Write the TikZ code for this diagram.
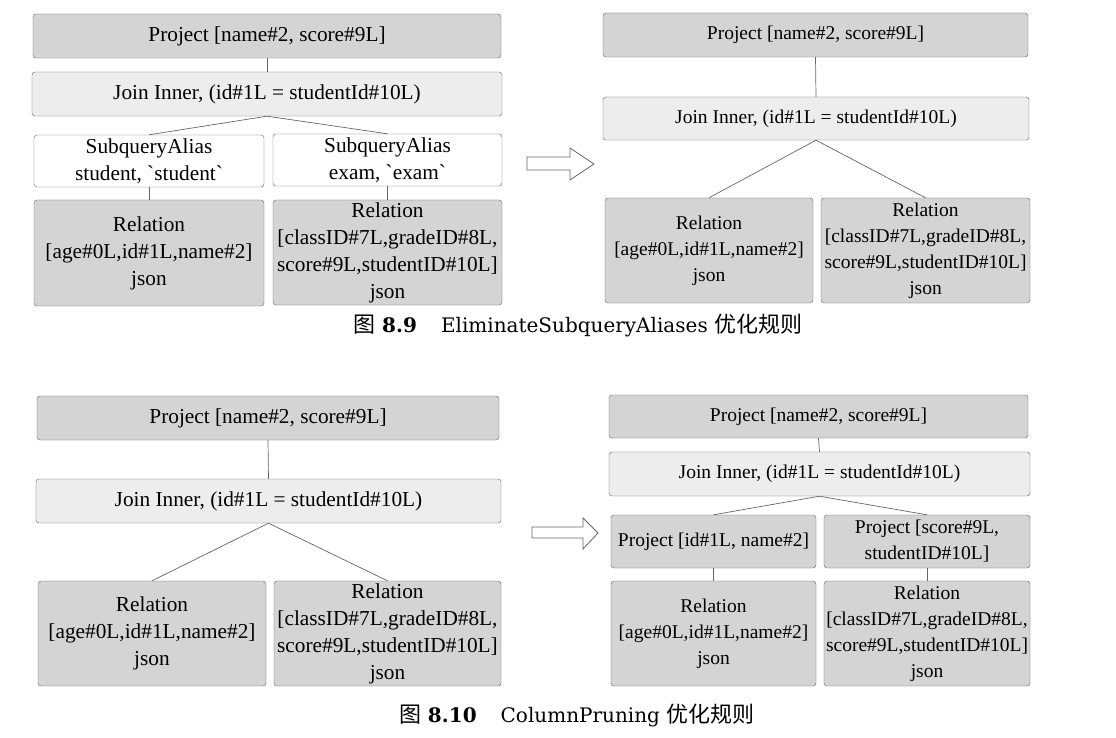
\documentclass[tikz,border=0pt]{standalone}
\usepackage{fontspec}
\setmainfont{Liberation Serif}
\newfontfamily\cjk{Noto Sans CJK SC}
\newfontfamily\capfont{DejaVu Serif}
\begin{document}
\begin{tikzpicture}[x=1pt,y=-1pt,
        box/.style={draw=black!62,rounded corners=3pt,inner sep=0pt,align=center,font=\fontsize{21.3}{27}\selectfont},
        sbox/.style={box,font=\fontsize{19.5}{26}\selectfont},
        dark/.style={fill=black!17},
        light/.style={fill=black!7},
        edge/.style={draw=black!60,line width=.7pt},
        fat/.style={draw=black!60,fill=white,line width=.8pt},
        caption/.style={font=\capfont\fontsize{20}{24}\selectfont}]
    \useasboundingbox (0,0) rectangle (1116,738);
    % EliminateSubqueryAliases, before
    \node[box,dark,minimum width=468,minimum height=44] (p1) at (267,36) {Project [name\#2, score\#9L]};
    \node[box,light,minimum width=470,minimum height=44] (j1) at (267,94) {Join Inner, (id\#1L = studentId\#10L)};
    \node[box,fill=white,minimum width=230,minimum height=52] (s1) at (149,161) {SubqueryAlias\\student, \textasciigrave student\textasciigrave};
    \node[box,fill=white,minimum width=229,minimum height=52] (s2) at (387.5,160) {SubqueryAlias\\exam, \textasciigrave exam\textasciigrave};
    \node[box,dark,minimum width=230,minimum height=106] (r1) at (149,253) {Relation\\{[}age\#0L,id\#1L,name\#2]\\json};
    \node[box,dark,minimum width=229,minimum height=105] (r2) at (387.5,252.5) {Relation\\{[}classID\#7L,gradeID\#8L,\\score\#9L,studentID\#10L]\\json};
    \draw[fat] (527,157) -- (570,157) -- (570,148) -- (594,164) -- (570,180) -- (570,170) -- (527,170) -- cycle;
    % EliminateSubqueryAliases, after
    \node[sbox,dark,minimum width=425,minimum height=44] (p2) at (815.5,35) {Project [name\#2, score\#9L]};
    \node[sbox,light,minimum width=426,minimum height=43] (j2) at (816,118.5) {Join Inner, (id\#1L = studentId\#10L)};
    \node[sbox,dark,minimum width=208,minimum height=105] (r3) at (709,250.5) {Relation\\{[}age\#0L,id\#1L,name\#2]\\json};
    \node[sbox,dark,minimum width=209,minimum height=105] (r4) at (925.5,250.5) {Relation\\{[}classID\#7L,gradeID\#8L,\\score\#9L,studentID\#10L]\\json};
    \node[caption] (cap1) at (578,325) {{\cjk\fontsize{22}{24}\selectfont 图} \textbf{8.9}\hspace{24pt}EliminateSubqueryAliases {\cjk\fontsize{22}{24}\selectfont 优化规则}};
    % ColumnPruning, before
    \node[box,dark,minimum width=462,minimum height=44] (p3) at (268,418) {Project [name\#2, score\#9L]};
    \node[box,light,minimum width=465,minimum height=44] (j3) at (268.5,501) {Join Inner, (id\#1L = studentId\#10L)};
    \node[box,dark,minimum width=228,minimum height=105] (r5) at (152,633.5) {Relation\\{[}age\#0L,id\#1L,name\#2]\\json};
    \node[box,dark,minimum width=227,minimum height=105] (r6) at (387.5,633.5) {Relation\\{[}classID\#7L,gradeID\#8L,\\score\#9L,studentID\#10L]\\json};
    \draw[fat] (532,527) -- (583,527) -- (583,518) -- (598,533) -- (583,549) -- (583,538) -- (532,538) -- cycle;
    % ColumnPruning, after
    \node[sbox,dark,minimum width=419,minimum height=43] (p4) at (818.5,416.5) {Project [name\#2, score\#9L]};
    \node[sbox,light,minimum width=421,minimum height=44] (j4) at (819.5,474) {Join Inner, (id\#1L = studentId\#10L)};
    \node[sbox,dark,minimum width=205,minimum height=53] (q1) at (713.5,541.5) {Project [id\#1L, name\#2]};
    \node[sbox,dark,minimum width=206,minimum height=53] (q2) at (927,541.5) {Project [score\#9L,\\studentID\#10L]};
    \node[sbox,dark,minimum width=205,minimum height=105] (r7) at (713.5,633.5) {Relation\\{[}age\#0L,id\#1L,name\#2]\\json};
    \node[sbox,dark,minimum width=206,minimum height=105] (r8) at (927,633.5) {Relation\\{[}classID\#7L,gradeID\#8L,\\score\#9L,studentID\#10L]\\json};
    \node[caption] (cap2) at (577,715) {{\cjk\fontsize{22}{24}\selectfont 图} \textbf{8.10}\hspace{24pt}ColumnPruning {\cjk\fontsize{22}{24}\selectfont 优化规则}};
    \foreach \a/\b in {p1/j1,j1/s1,j1/s2,s1/r1,s2/r2,p2/j2,j2/r3,j2/r4,p3/j3,j3/r5,j3/r6,p4/j4,j4/q1,j4/q2,q1/r7,q2/r8}
        \draw[edge] (\a.south) -- (\b.north);
\end{tikzpicture}
\end{document}
